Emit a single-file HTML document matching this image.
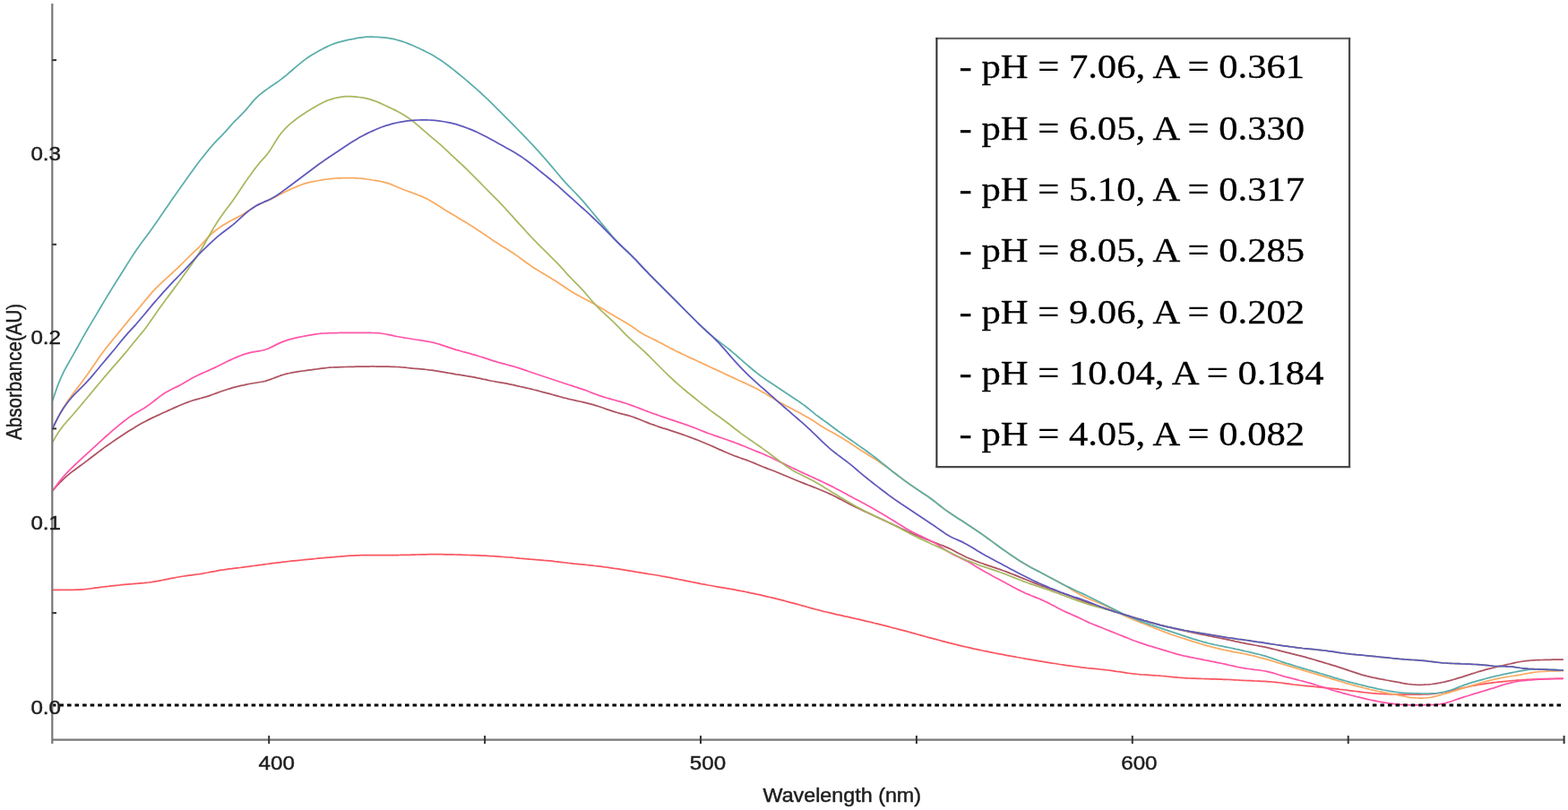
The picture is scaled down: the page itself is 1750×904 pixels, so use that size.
<!DOCTYPE html>
<html><head><meta charset="utf-8"><title>Absorbance spectra</title>
<style>
html,body{margin:0;padding:0;background:#fff;}
body{width:1750px;height:904px;overflow:hidden;}
svg{display:block;}
</style></head>
<body>
<svg width="1750" height="904" viewBox="0 0 1750 904">
<rect width="1750" height="904" fill="#fff"/>
<g fill="none" stroke-width="1.75" stroke-linejoin="round" stroke-linecap="round">
<path d="M58.1,658.4 L61.1,658.4 L64.1,658.4 L67.1,658.4 L70.1,658.4 L73.1,658.4 L76.1,658.4 L79.1,658.3 L82.1,658.3 L85.1,658.2 L88.1,658.1 L91.1,657.9 L94.1,657.7 L97.1,657.4 L100.1,657.0 L103.1,656.7 L106.1,656.2 L109.1,655.8 L112.1,655.4 L115.1,655.0 L118.1,654.6 L121.1,654.3 L124.1,653.9 L127.1,653.6 L130.1,653.3 L133.1,653.0 L136.1,652.7 L139.1,652.4 L142.1,652.1 L145.1,651.8 L148.1,651.6 L151.1,651.3 L154.1,651.1 L157.1,650.8 L160.1,650.6 L163.1,650.3 L166.1,650.0 L169.1,649.6 L172.1,649.1 L175.1,648.7 L178.1,648.1 L181.1,647.5 L184.1,646.9 L187.1,646.3 L190.1,645.7 L193.1,645.1 L196.1,644.5 L199.1,644.0 L202.1,643.5 L205.1,643.0 L208.1,642.6 L211.1,642.2 L214.1,641.8 L217.1,641.4 L220.1,641.0 L223.1,640.6 L226.1,640.1 L229.1,639.5 L232.1,639.0 L235.1,638.4 L238.1,637.8 L241.1,637.3 L244.1,636.7 L247.1,636.2 L250.1,635.8 L253.1,635.3 L256.1,634.9 L259.1,634.6 L262.1,634.2 L265.1,633.8 L268.1,633.5 L271.1,633.1 L274.1,632.7 L277.1,632.3 L280.1,631.9 L283.1,631.5 L286.1,631.1 L289.1,630.7 L292.1,630.3 L295.1,629.9 L298.1,629.5 L301.1,629.1 L304.1,628.7 L307.1,628.3 L310.1,627.9 L313.1,627.6 L316.1,627.2 L319.1,626.9 L322.1,626.5 L325.1,626.2 L328.1,625.9 L331.1,625.6 L334.1,625.3 L337.1,625.0 L340.1,624.7 L343.1,624.4 L346.1,624.1 L349.1,623.8 L352.1,623.5 L355.1,623.2 L358.1,622.9 L361.1,622.7 L364.1,622.4 L367.1,622.1 L370.1,621.8 L373.1,621.6 L376.1,621.3 L379.1,621.1 L382.1,620.8 L385.1,620.6 L388.1,620.4 L391.1,620.2 L394.1,620.1 L397.1,619.9 L400.1,619.8 L403.1,619.7 L406.1,619.7 L409.1,619.6 L412.1,619.6 L415.1,619.5 L418.1,619.5 L421.1,619.5 L424.1,619.5 L427.1,619.5 L430.1,619.5 L433.1,619.5 L436.1,619.5 L439.1,619.5 L442.1,619.5 L445.1,619.5 L448.1,619.4 L451.1,619.4 L454.1,619.3 L457.1,619.3 L460.1,619.2 L463.1,619.1 L466.1,619.0 L469.1,618.9 L472.1,618.8 L475.1,618.8 L478.1,618.7 L481.1,618.7 L484.1,618.7 L487.1,618.7 L490.1,618.7 L493.1,618.7 L496.1,618.8 L499.1,618.8 L502.1,618.9 L505.1,618.9 L508.1,619.0 L511.1,619.1 L514.1,619.2 L517.1,619.3 L520.1,619.4 L523.1,619.5 L526.1,619.6 L529.1,619.7 L532.1,619.8 L535.1,619.9 L538.1,620.1 L541.1,620.2 L544.1,620.4 L547.1,620.6 L550.1,620.7 L553.1,620.9 L556.1,621.1 L559.1,621.3 L562.1,621.5 L565.1,621.8 L568.1,622.0 L571.1,622.2 L574.1,622.5 L577.1,622.8 L580.1,623.1 L583.1,623.3 L586.1,623.6 L589.1,623.9 L592.1,624.2 L595.1,624.4 L598.1,624.7 L601.1,624.9 L604.1,625.1 L607.1,625.4 L610.1,625.6 L613.1,625.9 L616.1,626.2 L619.1,626.6 L622.1,626.9 L625.1,627.3 L628.1,627.7 L631.1,628.0 L634.1,628.4 L637.1,628.7 L640.1,629.1 L643.1,629.4 L646.1,629.7 L649.1,629.9 L652.1,630.2 L655.1,630.5 L658.1,630.8 L661.1,631.1 L664.1,631.5 L667.1,631.8 L670.1,632.2 L673.1,632.6 L676.1,633.0 L679.1,633.4 L682.1,633.8 L685.1,634.3 L688.1,634.7 L691.1,635.2 L694.1,635.7 L697.1,636.2 L700.1,636.7 L703.1,637.2 L706.1,637.7 L709.1,638.2 L712.1,638.6 L715.1,639.1 L718.1,639.6 L721.1,640.1 L724.1,640.6 L727.1,641.0 L730.1,641.5 L733.1,642.0 L736.1,642.5 L739.1,643.1 L742.1,643.6 L745.1,644.2 L748.1,644.7 L751.1,645.3 L754.1,645.9 L757.1,646.5 L760.1,647.1 L763.1,647.7 L766.1,648.3 L769.1,648.9 L772.1,649.5 L775.1,650.1 L778.1,650.7 L781.1,651.3 L784.1,651.9 L787.1,652.4 L790.1,653.0 L793.1,653.5 L796.1,654.0 L799.1,654.6 L802.1,655.1 L805.1,655.6 L808.1,656.1 L811.1,656.6 L814.1,657.2 L817.1,657.7 L820.1,658.2 L823.1,658.8 L826.1,659.4 L829.1,659.9 L832.1,660.5 L835.1,661.1 L838.1,661.8 L841.1,662.4 L844.1,663.1 L847.1,663.7 L850.1,664.4 L853.1,665.1 L856.1,665.8 L859.1,666.5 L862.1,667.2 L865.1,667.9 L868.1,668.7 L871.1,669.4 L874.1,670.2 L877.1,671.0 L880.1,671.8 L883.1,672.6 L886.1,673.4 L889.1,674.2 L892.1,675.0 L895.1,675.9 L898.1,676.7 L901.1,677.5 L904.1,678.4 L907.1,679.2 L910.1,680.0 L913.1,680.7 L916.1,681.5 L919.1,682.3 L922.1,683.0 L925.1,683.7 L928.1,684.4 L931.1,685.1 L934.1,685.8 L937.1,686.4 L940.1,687.1 L943.1,687.8 L946.1,688.4 L949.1,689.1 L952.1,689.8 L955.1,690.5 L958.1,691.2 L961.1,691.9 L964.1,692.6 L967.1,693.3 L970.1,694.0 L973.1,694.7 L976.1,695.5 L979.1,696.2 L982.1,696.9 L985.1,697.7 L988.1,698.4 L991.1,699.2 L994.1,700.0 L997.1,700.8 L1000.1,701.5 L1003.1,702.3 L1006.1,703.1 L1009.1,703.9 L1012.1,704.7 L1015.1,705.5 L1018.1,706.3 L1021.1,707.2 L1024.1,708.0 L1027.1,708.8 L1030.1,709.6 L1033.1,710.5 L1036.1,711.3 L1039.1,712.1 L1042.1,712.9 L1045.1,713.7 L1048.1,714.5 L1051.1,715.3 L1054.1,716.1 L1057.1,716.9 L1060.1,717.7 L1063.1,718.4 L1066.1,719.2 L1069.1,719.9 L1072.1,720.6 L1075.1,721.3 L1078.1,722.0 L1081.1,722.7 L1084.1,723.4 L1087.1,724.1 L1090.1,724.7 L1093.1,725.3 L1096.1,726.0 L1099.1,726.6 L1102.1,727.2 L1105.1,727.8 L1108.1,728.4 L1111.1,729.0 L1114.1,729.6 L1117.1,730.1 L1120.1,730.7 L1123.1,731.3 L1126.1,731.8 L1129.1,732.4 L1132.1,732.9 L1135.1,733.5 L1138.1,734.0 L1141.1,734.5 L1144.1,735.1 L1147.1,735.6 L1150.1,736.1 L1153.1,736.6 L1156.1,737.1 L1159.1,737.6 L1162.1,738.1 L1165.1,738.6 L1168.1,739.1 L1171.1,739.6 L1174.1,740.1 L1177.1,740.5 L1180.1,741.0 L1183.1,741.5 L1186.1,741.9 L1189.1,742.4 L1192.1,742.8 L1195.1,743.2 L1198.1,743.6 L1201.1,744.0 L1204.1,744.4 L1207.1,744.8 L1210.1,745.1 L1213.1,745.5 L1216.1,745.8 L1219.1,746.1 L1222.1,746.4 L1225.1,746.7 L1228.1,747.0 L1231.1,747.3 L1234.1,747.7 L1237.1,748.0 L1240.1,748.4 L1243.1,748.8 L1246.1,749.3 L1249.1,749.7 L1252.1,750.2 L1255.1,750.6 L1258.1,751.1 L1261.1,751.5 L1264.1,751.9 L1267.1,752.2 L1270.1,752.5 L1273.1,752.8 L1276.1,753.0 L1279.1,753.2 L1282.1,753.4 L1285.1,753.6 L1288.1,753.8 L1291.1,754.0 L1294.1,754.2 L1297.1,754.5 L1300.1,754.7 L1303.1,755.0 L1306.1,755.3 L1309.1,755.6 L1312.1,755.9 L1315.1,756.2 L1318.1,756.4 L1321.1,756.6 L1324.1,756.8 L1327.1,757.0 L1330.1,757.1 L1333.1,757.2 L1336.1,757.3 L1339.1,757.4 L1342.1,757.5 L1345.1,757.6 L1348.1,757.7 L1351.1,757.8 L1354.1,757.9 L1357.1,757.9 L1360.1,758.1 L1363.1,758.2 L1366.1,758.3 L1369.1,758.4 L1372.1,758.5 L1375.1,758.7 L1378.1,758.8 L1381.1,759.0 L1384.1,759.2 L1387.1,759.3 L1390.1,759.5 L1393.1,759.6 L1396.1,759.7 L1399.1,759.9 L1402.1,760.0 L1405.1,760.1 L1408.1,760.3 L1411.1,760.4 L1414.1,760.6 L1417.1,760.8 L1420.1,761.0 L1423.1,761.3 L1426.1,761.7 L1429.1,762.0 L1432.1,762.4 L1435.1,762.8 L1438.1,763.2 L1441.1,763.6 L1444.1,764.0 L1447.1,764.3 L1450.1,764.7 L1453.1,765.0 L1456.1,765.3 L1459.1,765.6 L1462.1,765.9 L1465.1,766.2 L1468.1,766.5 L1471.1,766.8 L1474.1,767.1 L1477.1,767.4 L1480.1,767.7 L1483.1,768.0 L1486.1,768.3 L1489.1,768.6 L1492.1,768.9 L1495.1,769.3 L1498.1,769.6 L1501.1,770.0 L1504.1,770.4 L1507.1,770.8 L1510.1,771.2 L1513.1,771.5 L1516.1,771.9 L1519.1,772.3 L1522.1,772.7 L1525.1,773.0 L1528.1,773.3 L1531.1,773.6 L1534.1,773.8 L1537.1,774.1 L1540.1,774.3 L1543.1,774.4 L1546.1,774.6 L1549.1,774.7 L1552.1,774.8 L1555.1,774.9 L1558.1,775.0 L1561.1,775.0 L1564.1,775.1 L1567.1,775.1 L1570.1,775.1 L1573.1,775.2 L1576.1,775.2 L1579.1,775.2 L1582.1,775.1 L1585.1,775.1 L1588.1,775.0 L1591.1,774.9 L1594.1,774.8 L1597.1,774.6 L1600.1,774.3 L1603.1,773.9 L1606.1,773.5 L1609.1,773.0 L1612.1,772.5 L1615.1,771.9 L1618.1,771.2 L1621.1,770.5 L1624.1,769.8 L1627.1,769.1 L1630.1,768.4 L1633.1,767.7 L1636.1,767.0 L1639.1,766.3 L1642.1,765.7 L1645.1,765.1 L1648.1,764.6 L1651.1,764.0 L1654.1,763.6 L1657.1,763.1 L1660.1,762.7 L1663.1,762.3 L1666.1,761.9 L1669.1,761.5 L1672.1,761.2 L1675.1,760.9 L1678.1,760.6 L1681.1,760.3 L1684.1,760.0 L1687.1,759.7 L1690.1,759.5 L1693.1,759.2 L1696.1,759.0 L1699.1,758.8 L1702.1,758.6 L1705.1,758.4 L1708.1,758.3 L1711.1,758.1 L1714.1,758.0 L1717.1,757.9 L1720.1,757.8 L1723.1,757.7 L1726.1,757.6 L1729.1,757.6 L1732.1,757.5 L1735.1,757.4 L1738.1,757.4 L1741.1,757.4 L1744.1,757.3 L1744.2,757.3" stroke="#fa5560"/>
<path d="M58.9,547.3 L61.9,544.0 L64.9,540.7 L67.9,537.5 L70.9,534.6 L73.9,531.8 L76.9,529.3 L79.9,526.9 L82.9,524.7 L85.9,522.5 L88.9,520.3 L91.9,518.1 L94.9,515.9 L97.9,513.6 L100.9,511.3 L103.9,509.0 L106.9,506.7 L109.9,504.4 L112.9,502.2 L115.9,499.9 L118.9,497.8 L121.9,495.7 L124.9,493.6 L127.9,491.5 L130.9,489.5 L133.9,487.5 L136.9,485.5 L139.9,483.5 L142.9,481.6 L145.9,479.7 L148.9,477.9 L151.9,476.1 L154.9,474.3 L157.9,472.6 L160.9,471.0 L163.9,469.4 L166.9,467.9 L169.9,466.4 L172.9,465.0 L175.9,463.6 L178.9,462.2 L181.9,460.8 L184.9,459.5 L187.9,458.1 L190.9,456.8 L193.9,455.4 L196.9,454.1 L199.9,452.8 L202.9,451.5 L205.9,450.2 L208.9,449.1 L211.9,448.0 L214.9,447.0 L217.9,446.1 L220.9,445.3 L223.9,444.5 L226.9,443.6 L229.9,442.8 L232.9,441.8 L235.9,440.8 L238.9,439.7 L241.9,438.6 L244.9,437.5 L247.9,436.5 L250.9,435.5 L253.9,434.5 L256.9,433.6 L259.9,432.7 L262.9,431.9 L265.9,431.2 L268.9,430.4 L271.9,429.8 L274.9,429.1 L277.9,428.5 L280.9,428.0 L283.9,427.5 L286.9,427.0 L289.9,426.5 L292.9,426.0 L295.9,425.3 L298.9,424.4 L301.9,423.4 L304.9,422.3 L307.9,421.1 L310.9,420.0 L313.9,418.9 L316.9,418.0 L319.9,417.1 L322.9,416.5 L325.9,415.8 L328.9,415.3 L331.9,414.8 L334.9,414.4 L337.9,414.0 L340.9,413.6 L343.9,413.2 L346.9,412.8 L349.9,412.4 L352.9,412.0 L355.9,411.6 L358.9,411.2 L361.9,410.8 L364.9,410.5 L367.9,410.2 L370.9,410.0 L373.9,409.9 L376.9,409.8 L379.9,409.7 L382.9,409.6 L385.9,409.5 L388.9,409.4 L391.9,409.4 L394.9,409.3 L397.9,409.2 L400.9,409.1 L403.9,409.0 L406.9,409.0 L409.9,409.0 L412.9,409.0 L415.9,408.9 L418.9,409.0 L421.9,409.0 L424.9,409.0 L427.9,409.1 L430.9,409.1 L433.9,409.2 L436.9,409.3 L439.9,409.4 L442.9,409.5 L445.9,409.7 L448.9,410.0 L451.9,410.2 L454.9,410.5 L457.9,410.8 L460.9,411.1 L463.9,411.3 L466.9,411.6 L469.9,411.9 L472.9,412.2 L475.9,412.5 L478.9,412.9 L481.9,413.2 L484.9,413.6 L487.9,414.1 L490.9,414.6 L493.9,415.1 L496.9,415.6 L499.9,416.2 L502.9,416.7 L505.9,417.2 L508.9,417.8 L511.9,418.2 L514.9,418.7 L517.9,419.2 L520.9,419.7 L523.9,420.1 L526.9,420.6 L529.9,421.2 L532.9,421.8 L535.9,422.4 L538.9,423.1 L541.9,423.7 L544.9,424.4 L547.9,425.0 L550.9,425.5 L553.9,426.1 L556.9,426.6 L559.9,427.1 L562.9,427.6 L565.9,428.2 L568.9,428.8 L571.9,429.4 L574.9,430.1 L577.9,430.8 L580.9,431.5 L583.9,432.2 L586.9,432.8 L589.9,433.5 L592.9,434.2 L595.9,435.0 L598.9,435.7 L601.9,436.5 L604.9,437.3 L607.9,438.1 L610.9,438.9 L613.9,439.7 L616.9,440.5 L619.9,441.3 L622.9,442.2 L625.9,443.0 L628.9,443.8 L631.9,444.5 L634.9,445.3 L637.9,446.0 L640.9,446.7 L643.9,447.4 L646.9,448.0 L649.9,448.7 L652.9,449.4 L655.9,450.1 L658.9,450.9 L661.9,451.7 L664.9,452.6 L667.9,453.5 L670.9,454.5 L673.9,455.5 L676.9,456.6 L679.9,457.6 L682.9,458.6 L685.9,459.6 L688.9,460.5 L691.9,461.3 L694.9,462.1 L697.9,462.8 L700.9,463.6 L703.9,464.5 L706.9,465.5 L709.9,466.6 L712.9,467.8 L715.9,469.0 L718.9,470.2 L721.9,471.4 L724.9,472.6 L727.9,473.7 L730.9,474.7 L733.9,475.8 L736.9,476.8 L739.9,477.8 L742.9,478.7 L745.9,479.7 L748.9,480.7 L751.9,481.7 L754.9,482.7 L757.9,483.7 L760.9,484.7 L763.9,485.7 L766.9,486.8 L769.9,487.9 L772.9,489.0 L775.9,490.1 L778.9,491.3 L781.9,492.5 L784.9,493.7 L787.9,495.0 L790.9,496.2 L793.9,497.5 L796.9,498.9 L799.9,500.2 L802.9,501.6 L805.9,502.9 L808.9,504.2 L811.9,505.5 L814.9,506.8 L817.9,508.0 L820.9,509.2 L823.9,510.2 L826.9,511.3 L829.9,512.3 L832.9,513.4 L835.9,514.5 L838.9,515.7 L841.9,516.9 L844.9,518.2 L847.9,519.5 L850.9,520.8 L853.9,521.9 L856.9,523.1 L859.9,524.2 L862.9,525.3 L865.9,526.5 L868.9,527.7 L871.9,529.0 L874.9,530.2 L877.9,531.5 L880.9,532.8 L883.9,534.0 L886.9,535.3 L889.9,536.5 L892.9,537.7 L895.9,538.9 L898.9,540.1 L901.9,541.3 L904.9,542.4 L907.9,543.6 L910.9,544.8 L913.9,546.0 L916.9,547.2 L919.9,548.5 L922.9,549.8 L925.9,551.1 L928.9,552.5 L931.9,554.0 L934.9,555.6 L937.9,557.1 L940.9,558.7 L943.9,560.3 L946.9,561.9 L949.9,563.4 L952.9,564.9 L955.9,566.4 L958.9,567.8 L961.9,569.2 L964.9,570.6 L967.9,572.0 L970.9,573.4 L973.9,574.8 L976.9,576.2 L979.9,577.6 L982.9,579.0 L985.9,580.4 L988.9,581.8 L991.9,583.2 L994.9,584.6 L997.9,586.0 L1000.9,587.4 L1003.9,588.8 L1006.9,590.2 L1009.9,591.6 L1012.9,593.0 L1015.9,594.3 L1018.9,595.7 L1021.9,597.0 L1024.9,598.2 L1027.9,599.5 L1030.9,600.7 L1033.9,601.9 L1036.9,603.0 L1039.9,604.2 L1042.9,605.4 L1045.9,606.5 L1048.9,607.7 L1051.9,608.8 L1054.9,610.1 L1057.9,611.4 L1060.9,612.8 L1063.9,614.3 L1066.9,615.9 L1069.9,617.5 L1072.9,619.0 L1075.9,620.5 L1078.9,622.0 L1081.9,623.3 L1084.9,624.5 L1087.9,625.7 L1090.9,626.9 L1093.9,628.0 L1096.9,629.0 L1099.9,630.1 L1102.9,631.1 L1105.9,632.1 L1108.9,633.1 L1111.9,634.1 L1114.9,635.2 L1117.9,636.2 L1120.9,637.3 L1123.9,638.4 L1126.9,639.6 L1129.9,640.7 L1132.9,641.9 L1135.9,643.1 L1138.9,644.4 L1141.9,645.6 L1144.9,646.8 L1147.9,648.0 L1150.9,649.2 L1153.9,650.4 L1156.9,651.6 L1159.9,652.8 L1162.9,653.9 L1165.9,655.0 L1168.9,656.1 L1171.9,657.2 L1174.9,658.2 L1177.9,659.2 L1180.9,660.3 L1183.9,661.3 L1186.9,662.4 L1189.9,663.5 L1192.9,664.6 L1195.9,665.8 L1198.9,666.9 L1201.9,668.1 L1204.9,669.3 L1207.9,670.5 L1210.9,671.6 L1213.9,672.7 L1216.9,673.7 L1219.9,674.7 L1222.9,675.7 L1225.9,676.6 L1228.9,677.6 L1231.9,678.5 L1234.9,679.5 L1237.9,680.5 L1240.9,681.5 L1243.9,682.4 L1246.9,683.4 L1249.9,684.4 L1252.9,685.3 L1255.9,686.3 L1258.9,687.2 L1261.9,688.1 L1264.9,689.0 L1267.9,689.9 L1270.9,690.8 L1273.9,691.7 L1276.9,692.6 L1279.9,693.4 L1282.9,694.3 L1285.9,695.1 L1288.9,695.9 L1291.9,696.7 L1294.9,697.5 L1297.9,698.3 L1300.9,699.0 L1303.9,699.8 L1306.9,700.5 L1309.9,701.3 L1312.9,702.0 L1315.9,702.7 L1318.9,703.3 L1321.9,704.0 L1324.9,704.7 L1327.9,705.3 L1330.9,706.0 L1333.9,706.6 L1336.9,707.2 L1339.9,707.8 L1342.9,708.4 L1345.9,709.0 L1348.9,709.6 L1351.9,710.2 L1354.9,710.8 L1357.9,711.4 L1360.9,712.0 L1363.9,712.6 L1366.9,713.2 L1369.9,713.8 L1372.9,714.4 L1375.9,715.1 L1378.9,715.8 L1381.9,716.4 L1384.9,717.1 L1387.9,717.7 L1390.9,718.3 L1393.9,718.9 L1396.9,719.4 L1399.9,720.0 L1402.9,720.5 L1405.9,721.1 L1408.9,721.6 L1411.9,722.2 L1414.9,722.9 L1417.9,723.6 L1420.9,724.3 L1423.9,725.0 L1426.9,725.8 L1429.9,726.6 L1432.9,727.3 L1435.9,728.1 L1438.9,728.8 L1441.9,729.6 L1444.9,730.3 L1447.9,731.1 L1450.9,731.8 L1453.9,732.6 L1456.9,733.4 L1459.9,734.3 L1462.9,735.1 L1465.9,736.0 L1468.9,736.9 L1471.9,737.8 L1474.9,738.7 L1477.9,739.6 L1480.9,740.5 L1483.9,741.4 L1486.9,742.3 L1489.9,743.2 L1492.9,744.2 L1495.9,745.1 L1498.9,746.1 L1501.9,747.1 L1504.9,748.1 L1507.9,749.2 L1510.9,750.2 L1513.9,751.2 L1516.9,752.2 L1519.9,753.1 L1522.9,753.9 L1525.9,754.7 L1528.9,755.4 L1531.9,756.1 L1534.9,756.7 L1537.9,757.3 L1540.9,757.9 L1543.9,758.4 L1546.9,759.0 L1549.9,759.5 L1552.9,760.1 L1555.9,760.6 L1558.9,761.2 L1561.9,761.7 L1564.9,762.3 L1567.9,762.8 L1570.9,763.3 L1573.9,763.7 L1576.9,764.0 L1579.9,764.2 L1582.9,764.3 L1585.9,764.3 L1588.9,764.2 L1591.9,764.0 L1594.9,763.8 L1597.9,763.5 L1600.9,763.1 L1603.9,762.6 L1606.9,762.1 L1609.9,761.5 L1612.9,760.9 L1615.9,760.1 L1618.9,759.4 L1621.9,758.5 L1624.9,757.6 L1627.9,756.7 L1630.9,755.8 L1633.9,754.8 L1636.9,753.8 L1639.9,752.9 L1642.9,751.9 L1645.9,751.0 L1648.9,750.0 L1651.9,749.1 L1654.9,748.3 L1657.9,747.4 L1660.9,746.6 L1663.9,745.9 L1666.9,745.1 L1669.9,744.4 L1672.9,743.7 L1675.9,743.0 L1678.9,742.3 L1681.9,741.6 L1684.9,741.0 L1687.9,740.3 L1690.9,739.6 L1693.9,739.0 L1696.9,738.5 L1699.9,738.0 L1702.9,737.6 L1705.9,737.3 L1708.9,737.0 L1711.9,736.8 L1714.9,736.7 L1717.9,736.6 L1720.9,736.5 L1723.9,736.4 L1726.9,736.3 L1729.9,736.3 L1732.9,736.2 L1735.9,736.1 L1738.9,736.1 L1741.9,736.0 L1744.2,736.0" stroke="#ad5260"/>
<path d="M58.9,547.3 L61.9,543.2 L64.9,539.2 L67.9,535.4 L70.9,531.8 L73.9,528.5 L76.9,525.3 L79.9,522.3 L82.9,519.5 L85.9,516.7 L88.9,513.9 L91.9,511.1 L94.9,508.4 L97.9,505.6 L100.9,502.9 L103.9,500.1 L106.9,497.4 L109.9,494.6 L112.9,491.9 L115.9,489.2 L118.9,486.5 L121.9,483.8 L124.9,481.2 L127.9,478.7 L130.9,476.2 L133.9,473.7 L136.9,471.3 L139.9,468.9 L142.9,466.6 L145.9,464.5 L148.9,462.5 L151.9,460.7 L154.9,458.9 L157.9,457.2 L160.9,455.5 L163.9,453.5 L166.9,451.4 L169.9,449.1 L172.9,446.7 L175.9,444.4 L178.9,442.1 L181.9,440.0 L184.9,438.1 L187.9,436.4 L190.9,434.8 L193.9,433.3 L196.9,431.9 L199.9,430.4 L202.9,428.8 L205.9,427.1 L208.9,425.3 L211.9,423.5 L214.9,421.8 L217.9,420.2 L220.9,418.7 L223.9,417.4 L226.9,416.0 L229.9,414.7 L232.9,413.4 L235.9,412.0 L238.9,410.6 L241.9,409.2 L244.9,407.7 L247.9,406.3 L250.9,404.8 L253.9,403.3 L256.9,401.9 L259.9,400.5 L262.9,399.1 L265.9,397.9 L268.9,396.7 L271.9,395.6 L274.9,394.6 L277.9,393.8 L280.9,393.1 L283.9,392.6 L286.9,392.1 L289.9,391.6 L292.9,391.0 L295.9,390.3 L298.9,389.2 L301.9,387.9 L304.9,386.4 L307.9,384.9 L310.9,383.4 L313.9,382.1 L316.9,380.9 L319.9,379.9 L322.9,378.9 L325.9,378.1 L328.9,377.4 L331.9,376.7 L334.9,376.1 L337.9,375.5 L340.9,374.9 L343.9,374.4 L346.9,373.9 L349.9,373.4 L352.9,372.9 L355.9,372.5 L358.9,372.2 L361.9,372.0 L364.9,371.8 L367.9,371.7 L370.9,371.6 L373.9,371.5 L376.9,371.5 L379.9,371.4 L382.9,371.4 L385.9,371.4 L388.9,371.4 L391.9,371.4 L394.9,371.4 L397.9,371.4 L400.9,371.4 L403.9,371.4 L406.9,371.4 L409.9,371.4 L412.9,371.4 L415.9,371.5 L418.9,371.6 L421.9,371.7 L424.9,372.0 L427.9,372.5 L430.9,373.0 L433.9,373.6 L436.9,374.2 L439.9,374.9 L442.9,375.5 L445.9,376.0 L448.9,376.5 L451.9,377.1 L454.9,377.5 L457.9,378.0 L460.9,378.5 L463.9,379.0 L466.9,379.4 L469.9,379.9 L472.9,380.4 L475.9,380.9 L478.9,381.4 L481.9,382.0 L484.9,382.7 L487.9,383.5 L490.9,384.4 L493.9,385.3 L496.9,386.3 L499.9,387.3 L502.9,388.3 L505.9,389.3 L508.9,390.3 L511.9,391.2 L514.9,392.0 L517.9,392.8 L520.9,393.6 L523.9,394.4 L526.9,395.3 L529.9,396.1 L532.9,397.0 L535.9,398.0 L538.9,398.9 L541.9,399.9 L544.9,400.9 L547.9,401.9 L550.9,402.8 L553.9,403.7 L556.9,404.6 L559.9,405.4 L562.9,406.2 L565.9,407.0 L568.9,407.8 L571.9,408.6 L574.9,409.5 L577.9,410.4 L580.9,411.4 L583.9,412.4 L586.9,413.4 L589.9,414.5 L592.9,415.5 L595.9,416.5 L598.9,417.5 L601.9,418.5 L604.9,419.5 L607.9,420.5 L610.9,421.5 L613.9,422.5 L616.9,423.5 L619.9,424.5 L622.9,425.5 L625.9,426.5 L628.9,427.5 L631.9,428.5 L634.9,429.5 L637.9,430.4 L640.9,431.4 L643.9,432.3 L646.9,433.3 L649.9,434.3 L652.9,435.3 L655.9,436.5 L658.9,437.7 L661.9,438.9 L664.9,440.0 L667.9,441.1 L670.9,442.1 L673.9,443.1 L676.9,444.0 L679.9,444.8 L682.9,445.7 L685.9,446.5 L688.9,447.4 L691.9,448.2 L694.9,449.1 L697.9,450.0 L700.9,451.0 L703.9,452.1 L706.9,453.1 L709.9,454.3 L712.9,455.4 L715.9,456.6 L718.9,457.8 L721.9,458.9 L724.9,460.0 L727.9,461.1 L730.9,462.2 L733.9,463.2 L736.9,464.3 L739.9,465.3 L742.9,466.3 L745.9,467.4 L748.9,468.4 L751.9,469.4 L754.9,470.4 L757.9,471.3 L760.9,472.3 L763.9,473.4 L766.9,474.4 L769.9,475.5 L772.9,476.6 L775.9,477.8 L778.9,479.0 L781.9,480.2 L784.9,481.4 L787.9,482.6 L790.9,483.7 L793.9,484.8 L796.9,485.9 L799.9,486.9 L802.9,487.9 L805.9,489.0 L808.9,490.0 L811.9,491.0 L814.9,492.1 L817.9,493.1 L820.9,494.3 L823.9,495.4 L826.9,496.6 L829.9,497.8 L832.9,499.0 L835.9,500.3 L838.9,501.5 L841.9,502.7 L844.9,503.9 L847.9,505.1 L850.9,506.3 L853.9,507.6 L856.9,509.0 L859.9,510.3 L862.9,511.7 L865.9,513.2 L868.9,514.6 L871.9,516.1 L874.9,517.6 L877.9,519.1 L880.9,520.5 L883.9,522.0 L886.9,523.4 L889.9,524.8 L892.9,526.2 L895.9,527.6 L898.9,529.0 L901.9,530.4 L904.9,531.8 L907.9,533.1 L910.9,534.5 L913.9,535.9 L916.9,537.3 L919.9,538.7 L922.9,540.1 L925.9,541.6 L928.9,543.1 L931.9,544.7 L934.9,546.2 L937.9,547.8 L940.9,549.4 L943.9,551.0 L946.9,552.7 L949.9,554.3 L952.9,555.9 L955.9,557.5 L958.9,559.1 L961.9,560.7 L964.9,562.3 L967.9,563.9 L970.9,565.6 L973.9,567.3 L976.9,569.0 L979.9,570.7 L982.9,572.5 L985.9,574.3 L988.9,576.1 L991.9,577.9 L994.9,579.7 L997.9,581.6 L1000.9,583.4 L1003.9,585.3 L1006.9,587.1 L1009.9,588.9 L1012.9,590.7 L1015.9,592.4 L1018.9,594.0 L1021.9,595.5 L1024.9,597.0 L1027.9,598.4 L1030.9,599.9 L1033.9,601.3 L1036.9,602.7 L1039.9,604.2 L1042.9,605.8 L1045.9,607.6 L1048.9,609.5 L1051.9,611.5 L1054.9,613.6 L1057.9,615.5 L1060.9,617.3 L1063.9,618.9 L1066.9,620.4 L1069.9,621.7 L1072.9,623.1 L1075.9,624.6 L1078.9,626.1 L1081.9,627.8 L1084.9,629.6 L1087.9,631.4 L1090.9,633.2 L1093.9,635.0 L1096.9,636.8 L1099.9,638.5 L1102.9,640.1 L1105.9,641.8 L1108.9,643.4 L1111.9,645.0 L1114.9,646.6 L1117.9,648.2 L1120.9,649.8 L1123.9,651.4 L1126.9,653.1 L1129.9,654.7 L1132.9,656.3 L1135.9,657.9 L1138.9,659.4 L1141.9,660.8 L1144.9,662.2 L1147.9,663.4 L1150.9,664.7 L1153.9,665.9 L1156.9,667.1 L1159.9,668.3 L1162.9,669.6 L1165.9,671.0 L1168.9,672.4 L1171.9,673.9 L1174.9,675.5 L1177.9,677.1 L1180.9,678.7 L1183.9,680.2 L1186.9,681.7 L1189.9,683.1 L1192.9,684.4 L1195.9,685.7 L1198.9,687.1 L1201.9,688.4 L1204.9,689.8 L1207.9,691.3 L1210.9,692.7 L1213.9,694.1 L1216.9,695.5 L1219.9,696.7 L1222.9,697.9 L1225.9,699.1 L1228.9,700.3 L1231.9,701.5 L1234.9,702.7 L1237.9,703.9 L1240.9,705.1 L1243.9,706.3 L1246.9,707.5 L1249.9,708.7 L1252.9,709.9 L1255.9,711.1 L1258.9,712.3 L1261.9,713.5 L1264.9,714.7 L1267.9,715.8 L1270.9,716.9 L1273.9,717.9 L1276.9,718.9 L1279.9,719.8 L1282.9,720.8 L1285.9,721.7 L1288.9,722.6 L1291.9,723.5 L1294.9,724.4 L1297.9,725.3 L1300.9,726.2 L1303.9,727.1 L1306.9,728.0 L1309.9,728.9 L1312.9,729.8 L1315.9,730.6 L1318.9,731.4 L1321.9,732.1 L1324.9,732.7 L1327.9,733.3 L1330.9,733.9 L1333.9,734.5 L1336.9,735.1 L1339.9,735.7 L1342.9,736.3 L1345.9,736.9 L1348.9,737.4 L1351.9,738.1 L1354.9,738.7 L1357.9,739.3 L1360.9,739.9 L1363.9,740.5 L1366.9,741.2 L1369.9,741.9 L1372.9,742.5 L1375.9,743.2 L1378.9,743.9 L1381.9,744.5 L1384.9,745.1 L1387.9,745.6 L1390.9,746.1 L1393.9,746.5 L1396.9,746.9 L1399.9,747.3 L1402.9,747.6 L1405.9,748.0 L1408.9,748.5 L1411.9,749.0 L1414.9,749.6 L1417.9,750.4 L1420.9,751.2 L1423.9,752.0 L1426.9,753.0 L1429.9,753.9 L1432.9,754.8 L1435.9,755.6 L1438.9,756.4 L1441.9,757.2 L1444.9,757.9 L1447.9,758.7 L1450.9,759.5 L1453.9,760.2 L1456.9,761.0 L1459.9,761.9 L1462.9,762.7 L1465.9,763.6 L1468.9,764.5 L1471.9,765.5 L1474.9,766.4 L1477.9,767.3 L1480.9,768.2 L1483.9,769.1 L1486.9,770.1 L1489.9,771.0 L1492.9,771.8 L1495.9,772.7 L1498.9,773.6 L1501.9,774.4 L1504.9,775.2 L1507.9,776.0 L1510.9,776.7 L1513.9,777.5 L1516.9,778.2 L1519.9,778.9 L1522.9,779.6 L1525.9,780.3 L1528.9,781.0 L1531.9,781.6 L1534.9,782.2 L1537.9,782.8 L1540.9,783.3 L1543.9,783.9 L1546.9,784.3 L1549.9,784.8 L1552.9,785.2 L1555.9,785.6 L1558.9,785.9 L1561.9,786.2 L1564.9,786.4 L1567.9,786.6 L1570.9,786.7 L1573.9,786.8 L1576.9,786.8 L1579.9,786.8 L1582.9,786.8 L1585.9,786.8 L1588.9,786.8 L1591.9,786.7 L1594.9,786.7 L1597.9,786.6 L1600.9,786.5 L1603.9,786.3 L1606.9,785.9 L1609.9,785.4 L1612.9,784.8 L1615.9,783.9 L1618.9,783.0 L1621.9,782.0 L1624.9,780.9 L1627.9,779.9 L1630.9,778.9 L1633.9,777.9 L1636.9,777.0 L1639.9,776.0 L1642.9,775.1 L1645.9,774.2 L1648.9,773.3 L1651.9,772.4 L1654.9,771.5 L1657.9,770.6 L1660.9,769.7 L1663.9,768.7 L1666.9,767.8 L1669.9,766.8 L1672.9,765.8 L1675.9,764.9 L1678.9,764.0 L1681.9,763.1 L1684.9,762.3 L1687.9,761.6 L1690.9,761.0 L1693.9,760.5 L1696.9,760.0 L1699.9,759.6 L1702.9,759.3 L1705.9,759.0 L1708.9,758.8 L1711.9,758.6 L1714.9,758.4 L1717.9,758.2 L1720.9,758.1 L1723.9,757.9 L1726.9,757.8 L1729.9,757.7 L1732.9,757.6 L1735.9,757.5 L1738.9,757.4 L1741.9,757.4 L1744.2,757.3" stroke="#ff55aa"/>
<path d="M58.9,477.6 L61.9,471.4 L64.9,465.4 L67.9,459.8 L70.9,454.8 L73.9,450.1 L76.9,445.7 L79.9,441.5 L82.9,437.5 L85.9,433.6 L88.9,429.7 L91.9,425.7 L94.9,421.6 L97.9,417.4 L100.9,413.1 L103.9,408.8 L106.9,404.4 L109.9,400.0 L112.9,395.8 L115.9,391.7 L118.9,387.8 L121.9,384.1 L124.9,380.4 L127.9,376.7 L130.9,373.0 L133.9,369.4 L136.9,365.7 L139.9,362.1 L142.9,358.4 L145.9,354.8 L148.9,351.2 L151.9,347.6 L154.9,344.0 L157.9,340.4 L160.9,336.7 L163.9,333.1 L166.9,329.6 L169.9,326.1 L172.9,322.9 L175.9,319.8 L178.9,316.9 L181.9,314.2 L184.9,311.4 L187.9,308.7 L190.9,306.0 L193.9,303.2 L196.9,300.4 L199.9,297.5 L202.9,294.5 L205.9,291.5 L208.9,288.5 L211.9,285.6 L214.9,282.7 L217.9,279.9 L220.9,277.1 L223.9,274.0 L226.9,270.7 L229.9,267.3 L232.9,264.1 L235.9,261.1 L238.9,258.5 L241.9,256.2 L244.9,254.1 L247.9,252.1 L250.9,250.2 L253.9,248.4 L256.9,246.7 L259.9,245.1 L262.9,243.6 L265.9,242.1 L268.9,240.5 L271.9,238.7 L274.9,236.8 L277.9,234.7 L280.9,232.7 L283.9,230.8 L286.9,229.1 L289.9,227.6 L292.9,226.2 L295.9,224.9 L298.9,223.7 L301.9,222.4 L304.9,220.9 L307.9,219.4 L310.9,217.8 L313.9,216.2 L316.9,214.7 L319.9,213.3 L322.9,211.9 L325.9,210.5 L328.9,209.2 L331.9,207.9 L334.9,206.7 L337.9,205.6 L340.9,204.7 L343.9,203.9 L346.9,203.2 L349.9,202.6 L352.9,202.0 L355.9,201.5 L358.9,200.9 L361.9,200.4 L364.9,200.0 L367.9,199.6 L370.9,199.3 L373.9,199.0 L376.9,198.9 L379.9,198.8 L382.9,198.7 L385.9,198.7 L388.9,198.7 L391.9,198.7 L394.9,198.7 L397.9,198.8 L400.9,199.0 L403.9,199.2 L406.9,199.6 L409.9,200.0 L412.9,200.5 L415.9,201.0 L418.9,201.4 L421.9,201.9 L424.9,202.5 L427.9,203.1 L430.9,203.9 L433.9,204.8 L436.9,205.9 L439.9,207.2 L442.9,208.5 L445.9,209.8 L448.9,211.0 L451.9,212.2 L454.9,213.3 L457.9,214.4 L460.9,215.5 L463.9,216.6 L466.9,217.7 L469.9,218.9 L472.9,220.2 L475.9,221.6 L478.9,223.2 L481.9,224.9 L484.9,226.7 L487.9,228.7 L490.9,230.6 L493.9,232.5 L496.9,234.4 L499.9,236.2 L502.9,238.0 L505.9,239.8 L508.9,241.6 L511.9,243.4 L514.9,245.2 L517.9,247.0 L520.9,248.8 L523.9,250.7 L526.9,252.6 L529.9,254.5 L532.9,256.4 L535.9,258.4 L538.9,260.4 L541.9,262.5 L544.9,264.6 L547.9,266.6 L550.9,268.7 L553.9,270.6 L556.9,272.6 L559.9,274.4 L562.9,276.2 L565.9,278.0 L568.9,279.9 L571.9,281.9 L574.9,283.9 L577.9,286.1 L580.9,288.3 L583.9,290.5 L586.9,292.7 L589.9,294.8 L592.9,296.9 L595.9,298.9 L598.9,300.8 L601.9,302.6 L604.9,304.4 L607.9,306.2 L610.9,308.0 L613.9,309.8 L616.9,311.7 L619.9,313.6 L622.9,315.6 L625.9,317.6 L628.9,319.6 L631.9,321.6 L634.9,323.6 L637.9,325.4 L640.9,327.2 L643.9,328.9 L646.9,330.6 L649.9,332.2 L652.9,333.8 L655.9,335.4 L658.9,337.0 L661.9,338.6 L664.9,340.3 L667.9,342.1 L670.9,343.8 L673.9,345.6 L676.9,347.4 L679.9,349.3 L682.9,351.0 L685.9,352.8 L688.9,354.5 L691.9,356.3 L694.9,358.0 L697.9,359.7 L700.9,361.5 L703.9,363.4 L706.9,365.5 L709.9,367.6 L712.9,369.7 L715.9,371.7 L718.9,373.4 L721.9,375.0 L724.9,376.5 L727.9,378.0 L730.9,379.4 L733.9,380.9 L736.9,382.5 L739.9,384.1 L742.9,385.7 L745.9,387.3 L748.9,388.9 L751.9,390.4 L754.9,392.0 L757.9,393.4 L760.9,394.9 L763.9,396.3 L766.9,397.7 L769.9,399.1 L772.9,400.4 L775.9,401.8 L778.9,403.2 L781.9,404.6 L784.9,406.0 L787.9,407.4 L790.9,408.8 L793.9,410.2 L796.9,411.6 L799.9,413.0 L802.9,414.4 L805.9,415.8 L808.9,417.2 L811.9,418.6 L814.9,420.0 L817.9,421.4 L820.9,422.8 L823.9,424.2 L826.9,425.5 L829.9,426.9 L832.9,428.3 L835.9,429.7 L838.9,431.1 L841.9,432.5 L844.9,434.1 L847.9,435.7 L850.9,437.4 L853.9,439.1 L856.9,440.9 L859.9,442.8 L862.9,444.6 L865.9,446.4 L868.9,448.2 L871.9,449.9 L874.9,451.6 L877.9,453.2 L880.9,454.8 L883.9,456.3 L886.9,457.9 L889.9,459.5 L892.9,461.1 L895.9,462.7 L898.9,464.4 L901.9,466.1 L904.9,467.9 L907.9,469.8 L910.9,471.8 L913.9,473.7 L916.9,475.7 L919.9,477.5 L922.9,479.2 L925.9,480.9 L928.9,482.6 L931.9,484.3 L934.9,486.0 L937.9,487.8 L940.9,489.6 L943.9,491.5 L946.9,493.3 L949.9,495.3 L952.9,497.3 L955.9,499.3 L958.9,501.3 L961.9,503.2 L964.9,505.1 L967.9,507.0 L970.9,508.9 L973.9,510.7 L976.9,512.6 L979.9,514.6 L982.9,516.7 L985.9,518.8 L988.9,520.9 L991.9,523.1 L994.9,525.3 L997.9,527.6 L1000.9,529.8 L1003.9,532.0 L1006.9,534.3 L1009.9,536.5 L1012.9,538.7 L1015.9,540.8 L1018.9,542.9 L1021.9,545.0 L1024.9,547.0 L1027.9,548.9 L1030.9,550.9 L1033.9,552.9 L1036.9,555.0 L1039.9,557.2 L1042.9,559.5 L1045.9,561.9 L1048.9,564.3 L1051.9,566.6 L1054.9,568.9 L1057.9,571.0 L1060.9,573.0 L1063.9,575.0 L1066.9,577.0 L1069.9,578.9 L1072.9,580.8 L1075.9,582.8 L1078.9,584.8 L1081.9,586.7 L1084.9,588.7 L1087.9,590.7 L1090.9,592.7 L1093.9,594.8 L1096.9,596.9 L1099.9,599.0 L1102.9,601.2 L1105.9,603.4 L1108.9,605.6 L1111.9,607.8 L1114.9,610.0 L1117.9,612.2 L1120.9,614.3 L1123.9,616.4 L1126.9,618.5 L1129.9,620.5 L1132.9,622.5 L1135.9,624.5 L1138.9,626.4 L1141.9,628.3 L1144.9,630.0 L1147.9,631.7 L1150.9,633.4 L1153.9,635.0 L1156.9,636.6 L1159.9,638.1 L1162.9,639.7 L1165.9,641.3 L1168.9,642.8 L1171.9,644.4 L1174.9,646.0 L1177.9,647.6 L1180.9,649.2 L1183.9,650.8 L1186.9,652.5 L1189.9,654.2 L1192.9,656.0 L1195.9,657.9 L1198.9,659.7 L1201.9,661.5 L1204.9,663.3 L1207.9,664.9 L1210.9,666.4 L1213.9,667.8 L1216.9,669.1 L1219.9,670.3 L1222.9,671.5 L1225.9,672.7 L1228.9,673.9 L1231.9,675.2 L1234.9,676.6 L1237.9,678.1 L1240.9,679.7 L1243.9,681.3 L1246.9,682.9 L1249.9,684.5 L1252.9,686.1 L1255.9,687.5 L1258.9,688.9 L1261.9,690.2 L1264.9,691.5 L1267.9,692.7 L1270.9,693.9 L1273.9,695.1 L1276.9,696.2 L1279.9,697.4 L1282.9,698.6 L1285.9,699.8 L1288.9,701.1 L1291.9,702.3 L1294.9,703.5 L1297.9,704.6 L1300.9,705.8 L1303.9,706.9 L1306.9,708.0 L1309.9,709.0 L1312.9,710.0 L1315.9,711.0 L1318.9,712.0 L1321.9,712.9 L1324.9,713.9 L1327.9,714.8 L1330.9,715.8 L1333.9,716.7 L1336.9,717.6 L1339.9,718.5 L1342.9,719.4 L1345.9,720.3 L1348.9,721.1 L1351.9,721.9 L1354.9,722.7 L1357.9,723.4 L1360.9,724.1 L1363.9,724.8 L1366.9,725.5 L1369.9,726.1 L1372.9,726.7 L1375.9,727.3 L1378.9,727.8 L1381.9,728.4 L1384.9,728.9 L1387.9,729.5 L1390.9,730.1 L1393.9,730.8 L1396.9,731.5 L1399.9,732.2 L1402.9,733.0 L1405.9,733.8 L1408.9,734.6 L1411.9,735.4 L1414.9,736.2 L1417.9,737.1 L1420.9,738.0 L1423.9,738.9 L1426.9,739.8 L1429.9,740.7 L1432.9,741.6 L1435.9,742.5 L1438.9,743.4 L1441.9,744.3 L1444.9,745.2 L1447.9,746.1 L1450.9,747.0 L1453.9,747.9 L1456.9,748.8 L1459.9,749.7 L1462.9,750.6 L1465.9,751.5 L1468.9,752.4 L1471.9,753.3 L1474.9,754.2 L1477.9,755.1 L1480.9,756.0 L1483.9,756.9 L1486.9,757.8 L1489.9,758.7 L1492.9,759.6 L1495.9,760.5 L1498.9,761.4 L1501.9,762.3 L1504.9,763.1 L1507.9,764.0 L1510.9,764.8 L1513.9,765.6 L1516.9,766.5 L1519.9,767.2 L1522.9,768.0 L1525.9,768.7 L1528.9,769.5 L1531.9,770.2 L1534.9,770.8 L1537.9,771.5 L1540.9,772.1 L1543.9,772.7 L1546.9,773.3 L1549.9,773.9 L1552.9,774.4 L1555.9,775.0 L1558.9,775.5 L1561.9,776.1 L1564.9,776.6 L1567.9,777.2 L1570.9,777.8 L1573.9,778.3 L1576.9,778.7 L1579.9,778.9 L1582.9,779.0 L1585.9,779.0 L1588.9,779.0 L1591.9,778.8 L1594.9,778.5 L1597.9,778.1 L1600.9,777.4 L1603.9,776.7 L1606.9,775.9 L1609.9,775.0 L1612.9,774.2 L1615.9,773.3 L1618.9,772.4 L1621.9,771.5 L1624.9,770.6 L1627.9,769.7 L1630.9,768.7 L1633.9,767.8 L1636.9,766.9 L1639.9,766.0 L1642.9,765.1 L1645.9,764.2 L1648.9,763.3 L1651.9,762.4 L1654.9,761.5 L1657.9,760.7 L1660.9,759.9 L1663.9,759.1 L1666.9,758.4 L1669.9,757.7 L1672.9,757.1 L1675.9,756.5 L1678.9,755.9 L1681.9,755.4 L1684.9,755.0 L1687.9,754.5 L1690.9,754.1 L1693.9,753.6 L1696.9,753.1 L1699.9,752.5 L1702.9,751.9 L1705.9,751.4 L1708.9,750.8 L1711.9,750.3 L1714.9,750.0 L1717.9,749.7 L1720.9,749.5 L1723.9,749.3 L1726.9,749.1 L1729.9,749.0 L1732.9,748.9 L1735.9,748.8 L1738.9,748.8 L1741.9,748.7 L1744.2,748.7" stroke="#f9aa60"/>
<path d="M58.9,446.6 L61.9,437.5 L64.9,429.1 L67.9,421.8 L70.9,415.4 L73.9,409.7 L76.9,404.4 L79.9,399.1 L82.9,393.9 L85.9,388.5 L88.9,383.1 L91.9,377.7 L94.9,372.4 L97.9,367.2 L100.9,362.1 L103.9,357.1 L106.9,352.1 L109.9,347.0 L112.9,342.0 L115.9,336.9 L118.9,331.9 L121.9,327.0 L124.9,322.1 L127.9,317.3 L130.9,312.5 L133.9,307.8 L136.9,303.0 L139.9,298.2 L142.9,293.4 L145.9,288.6 L148.9,284.0 L151.9,279.5 L154.9,275.2 L157.9,271.1 L160.9,267.0 L163.9,263.0 L166.9,258.9 L169.9,254.7 L172.9,250.5 L175.9,246.2 L178.9,241.8 L181.9,237.4 L184.9,233.1 L187.9,228.7 L190.9,224.3 L193.9,220.0 L196.9,215.7 L199.9,211.4 L202.9,207.2 L205.9,203.0 L208.9,198.8 L211.9,194.6 L214.9,190.4 L217.9,186.3 L220.9,182.2 L223.9,178.3 L226.9,174.6 L229.9,170.8 L232.9,167.1 L235.9,163.5 L238.9,160.1 L241.9,156.9 L244.9,153.8 L247.9,150.8 L250.9,147.6 L253.9,144.3 L256.9,140.9 L259.9,137.5 L262.9,134.3 L265.9,131.4 L268.9,128.5 L271.9,125.4 L274.9,122.1 L277.9,118.5 L280.9,114.9 L283.9,111.4 L286.9,108.3 L289.9,105.6 L292.9,103.2 L295.9,101.0 L298.9,98.9 L301.9,96.8 L304.9,94.8 L307.9,92.7 L310.9,90.6 L313.9,88.4 L316.9,86.0 L319.9,83.6 L322.9,81.0 L325.9,78.5 L328.9,75.9 L331.9,73.3 L334.9,70.8 L337.9,68.4 L340.9,66.1 L343.9,64.0 L346.9,62.0 L349.9,60.2 L352.9,58.5 L355.9,56.8 L358.9,55.2 L361.9,53.6 L364.9,52.1 L367.9,50.8 L370.9,49.5 L373.9,48.4 L376.9,47.4 L379.9,46.6 L382.9,45.8 L385.9,45.1 L388.9,44.4 L391.9,43.8 L394.9,43.3 L397.9,42.7 L400.9,42.2 L403.9,41.8 L406.9,41.4 L409.9,41.2 L412.9,41.1 L415.9,41.1 L418.9,41.3 L421.9,41.4 L424.9,41.6 L427.9,41.9 L430.9,42.2 L433.9,42.6 L436.9,43.1 L439.9,43.7 L442.9,44.5 L445.9,45.3 L448.9,46.2 L451.9,47.3 L454.9,48.4 L457.9,49.6 L460.9,50.8 L463.9,52.2 L466.9,53.5 L469.9,55.0 L472.9,56.4 L475.9,58.0 L478.9,59.5 L481.9,61.1 L484.9,62.8 L487.9,64.7 L490.9,66.6 L493.9,68.6 L496.9,70.7 L499.9,73.0 L502.9,75.3 L505.9,77.6 L508.9,80.0 L511.9,82.5 L514.9,84.9 L517.9,87.4 L520.9,89.9 L523.9,92.5 L526.9,95.1 L529.9,97.7 L532.9,100.3 L535.9,103.0 L538.9,105.8 L541.9,108.6 L544.9,111.4 L547.9,114.4 L550.9,117.3 L553.9,120.3 L556.9,123.4 L559.9,126.4 L562.9,129.4 L565.9,132.4 L568.9,135.4 L571.9,138.4 L574.9,141.4 L577.9,144.5 L580.9,147.6 L583.9,150.7 L586.9,153.8 L589.9,157.0 L592.9,160.2 L595.9,163.4 L598.9,166.6 L601.9,169.9 L604.9,173.3 L607.9,176.6 L610.9,180.1 L613.9,183.6 L616.9,187.1 L619.9,190.7 L622.9,194.3 L625.9,197.9 L628.9,201.3 L631.9,204.6 L634.9,207.8 L637.9,211.0 L640.9,214.0 L643.9,217.1 L646.9,220.3 L649.9,223.6 L652.9,227.1 L655.9,230.6 L658.9,234.2 L661.9,237.8 L664.9,241.5 L667.9,245.1 L670.9,248.7 L673.9,252.3 L676.9,255.9 L679.9,259.5 L682.9,263.1 L685.9,266.5 L688.9,269.8 L691.9,272.9 L694.9,275.8 L697.9,278.7 L700.9,281.5 L703.9,284.3 L706.9,287.3 L709.9,290.4 L712.9,293.6 L715.9,296.8 L718.9,300.1 L721.9,303.2 L724.9,306.4 L727.9,309.4 L730.9,312.4 L733.9,315.4 L736.9,318.4 L739.9,321.4 L742.9,324.4 L745.9,327.4 L748.9,330.4 L751.9,333.4 L754.9,336.4 L757.9,339.4 L760.9,342.5 L763.9,345.5 L766.9,348.5 L769.9,351.5 L772.9,354.5 L775.9,357.5 L778.9,360.5 L781.9,363.4 L784.9,366.3 L787.9,369.1 L790.9,371.8 L793.9,374.4 L796.9,376.9 L799.9,379.3 L802.9,381.6 L805.9,383.9 L808.9,386.1 L811.9,388.4 L814.9,390.8 L817.9,393.3 L820.9,395.8 L823.9,398.5 L826.9,401.1 L829.9,403.8 L832.9,406.4 L835.9,409.0 L838.9,411.5 L841.9,414.0 L844.9,416.4 L847.9,418.7 L850.9,420.9 L853.9,423.0 L856.9,425.1 L859.9,427.1 L862.9,429.1 L865.9,431.0 L868.9,433.0 L871.9,435.0 L874.9,437.0 L877.9,439.0 L880.9,441.0 L883.9,443.0 L886.9,444.9 L889.9,446.9 L892.9,449.0 L895.9,451.1 L898.9,453.3 L901.9,455.7 L904.9,458.2 L907.9,460.7 L910.9,463.1 L913.9,465.3 L916.9,467.5 L919.9,469.6 L922.9,471.8 L925.9,474.0 L928.9,476.2 L931.9,478.5 L934.9,480.7 L937.9,482.9 L940.9,485.0 L943.9,487.1 L946.9,489.2 L949.9,491.3 L952.9,493.4 L955.9,495.5 L958.9,497.6 L961.9,499.7 L964.9,501.8 L967.9,504.0 L970.9,506.2 L973.9,508.4 L976.9,510.7 L979.9,513.0 L982.9,515.4 L985.9,517.9 L988.9,520.3 L991.9,522.7 L994.9,525.2 L997.9,527.5 L1000.9,529.8 L1003.9,532.1 L1006.9,534.4 L1009.9,536.6 L1012.9,538.7 L1015.9,540.9 L1018.9,542.9 L1021.9,545.0 L1024.9,547.0 L1027.9,548.9 L1030.9,550.9 L1033.9,552.9 L1036.9,555.0 L1039.9,557.2 L1042.9,559.5 L1045.9,561.9 L1048.9,564.3 L1051.9,566.6 L1054.9,568.9 L1057.9,571.0 L1060.9,573.0 L1063.9,575.0 L1066.9,577.0 L1069.9,578.9 L1072.9,580.8 L1075.9,582.8 L1078.9,584.8 L1081.9,586.7 L1084.9,588.7 L1087.9,590.7 L1090.9,592.7 L1093.9,594.8 L1096.9,596.9 L1099.9,599.0 L1102.9,601.2 L1105.9,603.4 L1108.9,605.6 L1111.9,607.8 L1114.9,610.0 L1117.9,612.2 L1120.9,614.3 L1123.9,616.4 L1126.9,618.5 L1129.9,620.5 L1132.9,622.5 L1135.9,624.5 L1138.9,626.4 L1141.9,628.3 L1144.9,630.0 L1147.9,631.7 L1150.9,633.4 L1153.9,635.0 L1156.9,636.6 L1159.9,638.1 L1162.9,639.7 L1165.9,641.3 L1168.9,642.9 L1171.9,644.5 L1174.9,646.1 L1177.9,647.7 L1180.9,649.3 L1183.9,650.9 L1186.9,652.5 L1189.9,654.0 L1192.9,655.4 L1195.9,656.9 L1198.9,658.3 L1201.9,659.7 L1204.9,661.0 L1207.9,662.4 L1210.9,663.8 L1213.9,665.3 L1216.9,666.7 L1219.9,668.2 L1222.9,669.7 L1225.9,671.2 L1228.9,672.7 L1231.9,674.2 L1234.9,675.7 L1237.9,677.3 L1240.9,678.8 L1243.9,680.3 L1246.9,681.8 L1249.9,683.3 L1252.9,684.7 L1255.9,686.1 L1258.9,687.5 L1261.9,688.8 L1264.9,690.0 L1267.9,691.2 L1270.9,692.4 L1273.9,693.6 L1276.9,694.7 L1279.9,695.8 L1282.9,696.9 L1285.9,697.9 L1288.9,698.9 L1291.9,699.9 L1294.9,700.9 L1297.9,701.9 L1300.9,702.9 L1303.9,703.9 L1306.9,704.9 L1309.9,705.9 L1312.9,706.9 L1315.9,707.9 L1318.9,708.9 L1321.9,709.9 L1324.9,710.9 L1327.9,711.8 L1330.9,712.8 L1333.9,713.7 L1336.9,714.6 L1339.9,715.5 L1342.9,716.4 L1345.9,717.2 L1348.9,718.0 L1351.9,718.7 L1354.9,719.4 L1357.9,720.0 L1360.9,720.6 L1363.9,721.2 L1366.9,721.8 L1369.9,722.4 L1372.9,723.0 L1375.9,723.6 L1378.9,724.3 L1381.9,724.9 L1384.9,725.6 L1387.9,726.3 L1390.9,727.0 L1393.9,727.7 L1396.9,728.3 L1399.9,729.1 L1402.9,729.8 L1405.9,730.5 L1408.9,731.3 L1411.9,732.2 L1414.9,733.1 L1417.9,734.1 L1420.9,735.1 L1423.9,736.1 L1426.9,737.2 L1429.9,738.3 L1432.9,739.3 L1435.9,740.3 L1438.9,741.2 L1441.9,742.2 L1444.9,743.1 L1447.9,744.0 L1450.9,744.9 L1453.9,745.8 L1456.9,746.7 L1459.9,747.5 L1462.9,748.4 L1465.9,749.3 L1468.9,750.2 L1471.9,751.1 L1474.9,752.0 L1477.9,752.9 L1480.9,753.8 L1483.9,754.7 L1486.9,755.7 L1489.9,756.6 L1492.9,757.4 L1495.9,758.3 L1498.9,759.2 L1501.9,760.0 L1504.9,760.8 L1507.9,761.6 L1510.9,762.4 L1513.9,763.1 L1516.9,763.9 L1519.9,764.6 L1522.9,765.3 L1525.9,766.1 L1528.9,766.8 L1531.9,767.4 L1534.9,768.1 L1537.9,768.8 L1540.9,769.4 L1543.9,770.0 L1546.9,770.5 L1549.9,771.1 L1552.9,771.6 L1555.9,772.1 L1558.9,772.5 L1561.9,772.9 L1564.9,773.2 L1567.9,773.4 L1570.9,773.6 L1573.9,773.7 L1576.9,773.8 L1579.9,773.9 L1582.9,773.9 L1585.9,774.0 L1588.9,774.0 L1591.9,774.0 L1594.9,774.0 L1597.9,773.9 L1600.9,773.8 L1603.9,773.5 L1606.9,773.1 L1609.9,772.6 L1612.9,772.0 L1615.9,771.2 L1618.9,770.3 L1621.9,769.2 L1624.9,768.1 L1627.9,766.9 L1630.9,765.7 L1633.9,764.6 L1636.9,763.6 L1639.9,762.6 L1642.9,761.7 L1645.9,760.8 L1648.9,759.9 L1651.9,759.1 L1654.9,758.3 L1657.9,757.5 L1660.9,756.7 L1663.9,755.9 L1666.9,755.2 L1669.9,754.4 L1672.9,753.8 L1675.9,753.1 L1678.9,752.4 L1681.9,751.8 L1684.9,751.2 L1687.9,750.6 L1690.9,750.0 L1693.9,749.4 L1696.9,748.8 L1699.9,748.3 L1702.9,747.8 L1705.9,747.5 L1708.9,747.2 L1711.9,747.1 L1714.9,747.1 L1717.9,747.1 L1720.9,747.1 L1723.9,747.1 L1726.9,747.2 L1729.9,747.3 L1732.9,747.4 L1735.9,747.6 L1738.9,747.7 L1741.9,747.9 L1744.2,748.1" stroke="#5aaeaa"/>
<path d="M58.9,493.1 L61.9,487.9 L64.9,483.0 L67.9,478.7 L70.9,474.8 L73.9,471.3 L76.9,467.9 L79.9,464.5 L82.9,461.0 L85.9,457.5 L88.9,454.0 L91.9,450.4 L94.9,446.8 L97.9,443.2 L100.9,439.6 L103.9,436.0 L106.9,432.4 L109.9,428.8 L112.9,425.2 L115.9,421.6 L118.9,418.1 L121.9,414.6 L124.9,411.1 L127.9,407.7 L130.9,404.3 L133.9,400.9 L136.9,397.4 L139.9,393.9 L142.9,390.2 L145.9,386.5 L148.9,382.7 L151.9,379.1 L154.9,375.5 L157.9,371.9 L160.9,368.2 L163.9,364.3 L166.9,360.1 L169.9,355.8 L172.9,351.4 L175.9,347.1 L178.9,342.8 L181.9,338.7 L184.9,334.6 L187.9,330.6 L190.9,326.6 L193.9,322.6 L196.9,318.5 L199.9,314.4 L202.9,310.3 L205.9,306.1 L208.9,301.9 L211.9,297.7 L214.9,293.4 L217.9,289.0 L220.9,284.4 L223.9,279.5 L226.9,274.5 L229.9,269.3 L232.9,264.0 L235.9,258.7 L238.9,253.6 L241.9,248.8 L244.9,244.2 L247.9,239.9 L250.9,235.8 L253.9,231.8 L256.9,227.9 L259.9,223.8 L262.9,219.5 L265.9,215.0 L268.9,210.4 L271.9,205.9 L274.9,201.6 L277.9,197.4 L280.9,193.3 L283.9,189.1 L286.9,185.2 L289.9,181.6 L292.9,178.2 L295.9,174.9 L298.9,171.2 L301.9,166.9 L304.9,162.1 L307.9,157.2 L310.9,152.6 L313.9,148.5 L316.9,145.0 L319.9,141.9 L322.9,139.2 L325.9,136.6 L328.9,134.2 L331.9,131.9 L334.9,129.7 L337.9,127.7 L340.9,125.7 L343.9,123.8 L346.9,122.0 L349.9,120.2 L352.9,118.4 L355.9,116.8 L358.9,115.2 L361.9,113.8 L364.9,112.4 L367.9,111.3 L370.9,110.3 L373.9,109.5 L376.9,108.8 L379.9,108.3 L382.9,107.9 L385.9,107.7 L388.9,107.7 L391.9,107.7 L394.9,107.9 L397.9,108.2 L400.9,108.5 L403.9,108.9 L406.9,109.4 L409.9,110.1 L412.9,110.9 L415.9,111.8 L418.9,112.8 L421.9,114.1 L424.9,115.4 L427.9,116.8 L430.9,118.2 L433.9,119.6 L436.9,121.0 L439.9,122.4 L442.9,123.9 L445.9,125.5 L448.9,127.2 L451.9,129.0 L454.9,131.0 L457.9,133.1 L460.9,135.4 L463.9,137.8 L466.9,140.4 L469.9,143.0 L472.9,145.6 L475.9,148.2 L478.9,150.8 L481.9,153.4 L484.9,155.9 L487.9,158.4 L490.9,160.9 L493.9,163.6 L496.9,166.3 L499.9,169.2 L502.9,172.1 L505.9,174.9 L508.9,177.7 L511.9,180.5 L514.9,183.2 L517.9,186.0 L520.9,188.9 L523.9,191.9 L526.9,194.8 L529.9,197.8 L532.9,200.9 L535.9,203.9 L538.9,207.0 L541.9,210.0 L544.9,213.1 L547.9,216.1 L550.9,219.1 L553.9,222.1 L556.9,225.2 L559.9,228.3 L562.9,231.5 L565.9,234.8 L568.9,238.1 L571.9,241.4 L574.9,244.8 L577.9,248.1 L580.9,251.4 L583.9,254.7 L586.9,258.0 L589.9,261.3 L592.9,264.5 L595.9,267.6 L598.9,270.7 L601.9,273.8 L604.9,276.7 L607.9,279.7 L610.9,282.7 L613.9,285.6 L616.9,288.6 L619.9,291.6 L622.9,294.7 L625.9,297.9 L628.9,301.2 L631.9,304.6 L634.9,307.8 L637.9,311.0 L640.9,314.1 L643.9,317.1 L646.9,320.2 L649.9,323.4 L652.9,326.7 L655.9,330.2 L658.9,333.7 L661.9,337.2 L664.9,340.5 L667.9,343.6 L670.9,346.6 L673.9,349.4 L676.9,352.1 L679.9,354.9 L682.9,357.7 L685.9,360.6 L688.9,363.6 L691.9,366.7 L694.9,369.8 L697.9,372.8 L700.9,375.8 L703.9,378.6 L706.9,381.3 L709.9,383.9 L712.9,386.6 L715.9,389.3 L718.9,392.1 L721.9,395.0 L724.9,397.9 L727.9,401.0 L730.9,404.0 L733.9,407.0 L736.9,410.0 L739.9,413.0 L742.9,416.0 L745.9,418.9 L748.9,421.7 L751.9,424.5 L754.9,427.2 L757.9,429.9 L760.9,432.4 L763.9,435.0 L766.9,437.5 L769.9,439.9 L772.9,442.3 L775.9,444.7 L778.9,447.1 L781.9,449.6 L784.9,451.9 L787.9,454.3 L790.9,456.6 L793.9,458.9 L796.9,461.0 L799.9,463.2 L802.9,465.3 L805.9,467.5 L808.9,469.7 L811.9,472.0 L814.9,474.3 L817.9,476.7 L820.9,479.0 L823.9,481.3 L826.9,483.6 L829.9,485.7 L832.9,487.9 L835.9,490.0 L838.9,492.0 L841.9,494.1 L844.9,496.2 L847.9,498.3 L850.9,500.4 L853.9,502.6 L856.9,504.8 L859.9,507.0 L862.9,509.2 L865.9,511.5 L868.9,513.8 L871.9,516.1 L874.9,518.4 L877.9,520.6 L880.9,522.6 L883.9,524.5 L886.9,526.2 L889.9,527.8 L892.9,529.3 L895.9,530.7 L898.9,532.2 L901.9,533.7 L904.9,535.2 L907.9,536.8 L910.9,538.5 L913.9,540.3 L916.9,542.1 L919.9,543.9 L922.9,545.8 L925.9,547.6 L928.9,549.5 L931.9,551.3 L934.9,553.1 L937.9,555.0 L940.9,556.8 L943.9,558.6 L946.9,560.3 L949.9,562.0 L952.9,563.7 L955.9,565.4 L958.9,567.0 L961.9,568.6 L964.9,570.2 L967.9,571.7 L970.9,573.2 L973.9,574.7 L976.9,576.2 L979.9,577.6 L982.9,579.0 L985.9,580.4 L988.9,581.8 L991.9,583.2 L994.9,584.7 L997.9,586.2 L1000.9,587.7 L1003.9,589.3 L1006.9,590.9 L1009.9,592.5 L1012.9,594.1 L1015.9,595.7 L1018.9,597.3 L1021.9,598.7 L1024.9,600.2 L1027.9,601.6 L1030.9,603.0 L1033.9,604.4 L1036.9,605.8 L1039.9,607.2 L1042.9,608.5 L1045.9,609.9 L1048.9,611.3 L1051.9,612.6 L1054.9,614.0 L1057.9,615.4 L1060.9,616.8 L1063.9,618.3 L1066.9,619.7 L1069.9,621.2 L1072.9,622.5 L1075.9,623.9 L1078.9,625.2 L1081.9,626.4 L1084.9,627.6 L1087.9,628.8 L1090.9,630.0 L1093.9,631.1 L1096.9,632.2 L1099.9,633.2 L1102.9,634.2 L1105.9,635.2 L1108.9,636.2 L1111.9,637.2 L1114.9,638.2 L1117.9,639.3 L1120.9,640.4 L1123.9,641.5 L1126.9,642.7 L1129.9,643.9 L1132.9,645.1 L1135.9,646.3 L1138.9,647.5 L1141.9,648.6 L1144.9,649.7 L1147.9,650.8 L1150.9,651.8 L1153.9,652.8 L1156.9,653.8 L1159.9,654.8 L1162.9,655.8 L1165.9,656.8 L1168.9,657.9 L1171.9,659.0 L1174.9,660.1 L1177.9,661.2 L1180.9,662.3 L1183.9,663.4 L1186.9,664.5 L1189.9,665.6 L1192.9,666.7 L1195.9,667.9 L1198.9,669.0 L1201.9,670.1 L1204.9,671.2 L1207.9,672.2 L1210.9,673.2 L1213.9,674.2 L1216.9,675.1 L1219.9,675.9 L1222.9,676.8 L1225.9,677.6 L1228.9,678.4 L1231.9,679.3 L1234.9,680.1 L1237.9,681.0 L1240.9,681.9 L1243.9,682.8 L1246.9,683.6 L1249.9,684.5 L1252.9,685.4 L1255.9,686.3 L1258.9,687.2 L1261.9,688.1 L1264.9,689.0 L1267.9,689.9 L1270.9,690.8 L1273.9,691.7 L1276.9,692.6 L1279.9,693.4 L1282.9,694.3 L1285.9,695.1 L1288.9,696.0 L1291.9,696.8 L1294.9,697.6 L1297.9,698.3 L1300.9,699.1 L1303.9,699.8 L1306.9,700.4 L1309.9,701.1 L1312.9,701.7 L1315.9,702.3 L1318.9,702.9 L1321.9,703.5 L1324.9,704.0 L1327.9,704.6 L1330.9,705.1 L1333.9,705.6 L1336.9,706.1 L1339.9,706.6 L1342.9,707.1 L1345.9,707.6 L1348.9,708.1 L1351.9,708.6 L1354.9,709.1 L1357.9,709.6 L1360.9,710.1 L1363.9,710.6 L1366.9,711.1 L1369.9,711.6 L1372.9,712.0 L1375.9,712.4 L1378.9,712.8 L1381.9,713.3 L1384.9,713.7 L1387.9,714.1 L1390.9,714.5 L1393.9,714.9 L1396.9,715.4 L1399.9,715.8 L1402.9,716.3 L1405.9,716.7 L1408.9,717.2 L1411.9,717.7 L1414.9,718.1 L1417.9,718.6 L1420.9,719.0 L1423.9,719.5 L1426.9,719.9 L1429.9,720.4 L1432.9,720.8 L1435.9,721.2 L1438.9,721.6 L1441.9,722.0 L1444.9,722.4 L1447.9,722.8 L1450.9,723.1 L1453.9,723.5 L1456.9,723.8 L1459.9,724.1 L1462.9,724.4 L1465.9,724.7 L1468.9,725.0 L1471.9,725.3 L1474.9,725.7 L1477.9,726.0 L1480.9,726.4 L1483.9,726.8 L1486.9,727.2 L1489.9,727.7 L1492.9,728.2 L1495.9,728.6 L1498.9,729.0 L1501.9,729.4 L1504.9,729.7 L1507.9,730.1 L1510.9,730.4 L1513.9,730.7 L1516.9,730.9 L1519.9,731.2 L1522.9,731.5 L1525.9,731.8 L1528.9,732.1 L1531.9,732.4 L1534.9,732.7 L1537.9,733.0 L1540.9,733.3 L1543.9,733.6 L1546.9,733.9 L1549.9,734.2 L1552.9,734.5 L1555.9,734.8 L1558.9,735.1 L1561.9,735.4 L1564.9,735.6 L1567.9,735.9 L1570.9,736.1 L1573.9,736.3 L1576.9,736.5 L1579.9,736.7 L1582.9,736.9 L1585.9,737.1 L1588.9,737.4 L1591.9,737.7 L1594.9,738.1 L1597.9,738.4 L1600.9,738.8 L1603.9,739.2 L1606.9,739.5 L1609.9,739.8 L1612.9,740.0 L1615.9,740.2 L1618.9,740.3 L1621.9,740.5 L1624.9,740.6 L1627.9,740.7 L1630.9,740.9 L1633.9,741.0 L1636.9,741.1 L1639.9,741.2 L1642.9,741.3 L1645.9,741.5 L1648.9,741.6 L1651.9,741.8 L1654.9,742.1 L1657.9,742.4 L1660.9,742.7 L1663.9,743.0 L1666.9,743.3 L1669.9,743.5 L1672.9,743.6 L1675.9,743.7 L1678.9,743.7 L1681.9,743.8 L1684.9,744.0 L1687.9,744.2 L1690.9,744.6 L1693.9,745.0 L1696.9,745.5 L1699.9,745.8 L1702.9,746.1 L1705.9,746.4 L1708.9,746.5 L1711.9,746.7 L1714.9,746.8 L1717.9,746.9 L1720.9,747.1 L1723.9,747.2 L1726.9,747.3 L1729.9,747.5 L1732.9,747.6 L1735.9,747.7 L1738.9,747.9 L1741.9,748.0 L1744.2,748.1" stroke="#a8b860"/>
<path d="M58.9,477.6 L61.9,471.5 L64.9,465.6 L67.9,460.3 L70.9,455.5 L73.9,451.2 L76.9,447.3 L79.9,443.7 L82.9,440.4 L85.9,437.3 L88.9,434.3 L91.9,431.3 L94.9,428.3 L97.9,425.2 L100.9,421.9 L103.9,418.4 L106.9,414.8 L109.9,411.2 L112.9,407.5 L115.9,404.0 L118.9,400.4 L121.9,396.9 L124.9,393.3 L127.9,389.7 L130.9,386.0 L133.9,382.2 L136.9,378.6 L139.9,375.1 L142.9,371.7 L145.9,368.4 L148.9,365.1 L151.9,361.8 L154.9,358.3 L157.9,354.8 L160.9,351.2 L163.9,347.6 L166.9,344.0 L169.9,340.4 L172.9,336.9 L175.9,333.5 L178.9,330.1 L181.9,326.7 L184.9,323.4 L187.9,320.2 L190.9,316.9 L193.9,313.7 L196.9,310.6 L199.9,307.5 L202.9,304.4 L205.9,301.3 L208.9,298.1 L211.9,294.9 L214.9,291.6 L217.9,288.3 L220.9,285.0 L223.9,281.9 L226.9,278.9 L229.9,276.1 L232.9,273.2 L235.9,270.4 L238.9,267.7 L241.9,264.9 L244.9,262.4 L247.9,260.0 L250.9,257.7 L253.9,255.5 L256.9,253.2 L259.9,250.9 L262.9,248.3 L265.9,245.6 L268.9,242.9 L271.9,240.2 L274.9,237.5 L277.9,235.1 L280.9,232.9 L283.9,230.9 L286.9,229.1 L289.9,227.6 L292.9,226.2 L295.9,224.9 L298.9,223.6 L301.9,222.2 L304.9,220.6 L307.9,218.8 L310.9,216.8 L313.9,214.6 L316.9,212.4 L319.9,210.2 L322.9,208.0 L325.9,205.7 L328.9,203.5 L331.9,201.2 L334.9,199.0 L337.9,196.8 L340.9,194.5 L343.9,192.3 L346.9,190.0 L349.9,187.8 L352.9,185.5 L355.9,183.3 L358.9,181.2 L361.9,179.1 L364.9,177.1 L367.9,175.1 L370.9,173.1 L373.9,171.1 L376.9,169.1 L379.9,167.1 L382.9,165.1 L385.9,163.1 L388.9,161.1 L391.9,159.1 L394.9,157.2 L397.9,155.4 L400.9,153.6 L403.9,152.0 L406.9,150.4 L409.9,148.9 L412.9,147.5 L415.9,146.1 L418.9,144.8 L421.9,143.5 L424.9,142.3 L427.9,141.2 L430.9,140.2 L433.9,139.3 L436.9,138.4 L439.9,137.7 L442.9,137.0 L445.9,136.3 L448.9,135.8 L451.9,135.3 L454.9,134.9 L457.9,134.6 L460.9,134.3 L463.9,134.1 L466.9,134.0 L469.9,133.9 L472.9,133.9 L475.9,133.9 L478.9,134.0 L481.9,134.2 L484.9,134.4 L487.9,134.7 L490.9,135.1 L493.9,135.5 L496.9,136.0 L499.9,136.6 L502.9,137.2 L505.9,137.9 L508.9,138.7 L511.9,139.6 L514.9,140.6 L517.9,141.6 L520.9,142.7 L523.9,143.9 L526.9,145.1 L529.9,146.4 L532.9,147.8 L535.9,149.2 L538.9,150.7 L541.9,152.2 L544.9,153.8 L547.9,155.4 L550.9,157.1 L553.9,158.7 L556.9,160.4 L559.9,162.0 L562.9,163.7 L565.9,165.4 L568.9,167.1 L571.9,168.8 L574.9,170.6 L577.9,172.4 L580.9,174.3 L583.9,176.4 L586.9,178.5 L589.9,180.7 L592.9,183.0 L595.9,185.4 L598.9,187.8 L601.9,190.3 L604.9,192.7 L607.9,195.1 L610.9,197.5 L613.9,200.0 L616.9,202.5 L619.9,205.1 L622.9,207.7 L625.9,210.4 L628.9,213.1 L631.9,215.8 L634.9,218.5 L637.9,221.2 L640.9,223.9 L643.9,226.6 L646.9,229.3 L649.9,232.0 L652.9,234.7 L655.9,237.4 L658.9,240.2 L661.9,243.0 L664.9,245.9 L667.9,248.8 L670.9,251.7 L673.9,254.8 L676.9,257.8 L679.9,260.9 L682.9,264.0 L685.9,267.1 L688.9,270.1 L691.9,273.0 L694.9,275.9 L697.9,278.6 L700.9,281.4 L703.9,284.3 L706.9,287.3 L709.9,290.4 L712.9,293.6 L715.9,296.8 L718.9,300.1 L721.9,303.2 L724.9,306.4 L727.9,309.4 L730.9,312.4 L733.9,315.4 L736.9,318.4 L739.9,321.4 L742.9,324.4 L745.9,327.4 L748.9,330.4 L751.9,333.4 L754.9,336.4 L757.9,339.4 L760.9,342.5 L763.9,345.5 L766.9,348.5 L769.9,351.5 L772.9,354.5 L775.9,357.5 L778.9,360.5 L781.9,363.3 L784.9,366.2 L787.9,368.9 L790.9,371.6 L793.9,374.4 L796.9,377.3 L799.9,380.3 L802.9,383.5 L805.9,386.8 L808.9,390.2 L811.9,393.6 L814.9,397.1 L817.9,400.5 L820.9,403.9 L823.9,407.1 L826.9,410.3 L829.9,413.4 L832.9,416.4 L835.9,419.4 L838.9,422.2 L841.9,424.9 L844.9,427.6 L847.9,430.3 L850.9,432.9 L853.9,435.5 L856.9,438.1 L859.9,440.8 L862.9,443.4 L865.9,446.1 L868.9,448.8 L871.9,451.4 L874.9,454.0 L877.9,456.6 L880.9,459.2 L883.9,461.8 L886.9,464.4 L889.9,467.0 L892.9,469.6 L895.9,472.2 L898.9,474.9 L901.9,477.6 L904.9,480.4 L907.9,483.3 L910.9,486.2 L913.9,489.2 L916.9,492.1 L919.9,494.9 L922.9,497.6 L925.9,500.3 L928.9,502.8 L931.9,505.2 L934.9,507.6 L937.9,509.8 L940.9,512.1 L943.9,514.3 L946.9,516.6 L949.9,518.9 L952.9,521.4 L955.9,524.0 L958.9,526.6 L961.9,529.1 L964.9,531.6 L967.9,534.0 L970.9,536.4 L973.9,538.7 L976.9,541.1 L979.9,543.4 L982.9,545.7 L985.9,548.0 L988.9,550.3 L991.9,552.6 L994.9,554.8 L997.9,556.9 L1000.9,559.0 L1003.9,561.0 L1006.9,563.1 L1009.9,565.0 L1012.9,567.0 L1015.9,569.0 L1018.9,571.0 L1021.9,573.0 L1024.9,574.9 L1027.9,576.9 L1030.9,578.9 L1033.9,580.9 L1036.9,582.9 L1039.9,584.9 L1042.9,587.0 L1045.9,589.1 L1048.9,591.2 L1051.9,593.3 L1054.9,595.4 L1057.9,597.3 L1060.9,599.0 L1063.9,600.5 L1066.9,601.8 L1069.9,603.1 L1072.9,604.4 L1075.9,605.9 L1078.9,607.5 L1081.9,609.2 L1084.9,611.0 L1087.9,612.8 L1090.9,614.7 L1093.9,616.5 L1096.9,618.3 L1099.9,620.0 L1102.9,621.6 L1105.9,623.2 L1108.9,624.8 L1111.9,626.4 L1114.9,628.0 L1117.9,629.6 L1120.9,631.2 L1123.9,632.8 L1126.9,634.4 L1129.9,636.0 L1132.9,637.6 L1135.9,639.2 L1138.9,640.8 L1141.9,642.3 L1144.9,643.8 L1147.9,645.3 L1150.9,646.8 L1153.9,648.2 L1156.9,649.6 L1159.9,651.0 L1162.9,652.3 L1165.9,653.6 L1168.9,654.9 L1171.9,656.2 L1174.9,657.4 L1177.9,658.6 L1180.9,659.8 L1183.9,661.0 L1186.9,662.1 L1189.9,663.2 L1192.9,664.2 L1195.9,665.3 L1198.9,666.3 L1201.9,667.2 L1204.9,668.2 L1207.9,669.2 L1210.9,670.3 L1213.9,671.4 L1216.9,672.6 L1219.9,673.8 L1222.9,675.0 L1225.9,676.2 L1228.9,677.4 L1231.9,678.5 L1234.9,679.6 L1237.9,680.6 L1240.9,681.6 L1243.9,682.6 L1246.9,683.5 L1249.9,684.4 L1252.9,685.4 L1255.9,686.3 L1258.9,687.2 L1261.9,688.1 L1264.9,689.1 L1267.9,690.0 L1270.9,690.8 L1273.9,691.7 L1276.9,692.6 L1279.9,693.4 L1282.9,694.3 L1285.9,695.1 L1288.9,696.0 L1291.9,696.8 L1294.9,697.6 L1297.9,698.3 L1300.9,699.1 L1303.9,699.8 L1306.9,700.4 L1309.9,701.1 L1312.9,701.7 L1315.9,702.3 L1318.9,702.9 L1321.9,703.5 L1324.9,704.0 L1327.9,704.6 L1330.9,705.1 L1333.9,705.6 L1336.9,706.1 L1339.9,706.6 L1342.9,707.1 L1345.9,707.6 L1348.9,708.1 L1351.9,708.6 L1354.9,709.1 L1357.9,709.6 L1360.9,710.1 L1363.9,710.6 L1366.9,711.1 L1369.9,711.6 L1372.9,712.0 L1375.9,712.4 L1378.9,712.8 L1381.9,713.3 L1384.9,713.7 L1387.9,714.1 L1390.9,714.5 L1393.9,714.9 L1396.9,715.4 L1399.9,715.8 L1402.9,716.3 L1405.9,716.7 L1408.9,717.2 L1411.9,717.7 L1414.9,718.1 L1417.9,718.6 L1420.9,719.0 L1423.9,719.5 L1426.9,719.9 L1429.9,720.4 L1432.9,720.8 L1435.9,721.2 L1438.9,721.6 L1441.9,722.0 L1444.9,722.4 L1447.9,722.8 L1450.9,723.1 L1453.9,723.5 L1456.9,723.8 L1459.9,724.1 L1462.9,724.4 L1465.9,724.7 L1468.9,725.0 L1471.9,725.3 L1474.9,725.7 L1477.9,726.0 L1480.9,726.4 L1483.9,726.8 L1486.9,727.2 L1489.9,727.7 L1492.9,728.2 L1495.9,728.6 L1498.9,729.0 L1501.9,729.4 L1504.9,729.7 L1507.9,730.1 L1510.9,730.4 L1513.9,730.7 L1516.9,730.9 L1519.9,731.2 L1522.9,731.5 L1525.9,731.8 L1528.9,732.1 L1531.9,732.4 L1534.9,732.7 L1537.9,733.0 L1540.9,733.3 L1543.9,733.6 L1546.9,733.9 L1549.9,734.2 L1552.9,734.5 L1555.9,734.8 L1558.9,735.1 L1561.9,735.4 L1564.9,735.6 L1567.9,735.9 L1570.9,736.1 L1573.9,736.3 L1576.9,736.5 L1579.9,736.7 L1582.9,736.9 L1585.9,737.1 L1588.9,737.4 L1591.9,737.7 L1594.9,738.1 L1597.9,738.4 L1600.9,738.8 L1603.9,739.2 L1606.9,739.5 L1609.9,739.8 L1612.9,740.0 L1615.9,740.2 L1618.9,740.3 L1621.9,740.5 L1624.9,740.6 L1627.9,740.7 L1630.9,740.9 L1633.9,741.0 L1636.9,741.1 L1639.9,741.2 L1642.9,741.3 L1645.9,741.5 L1648.9,741.6 L1651.9,741.8 L1654.9,742.1 L1657.9,742.4 L1660.9,742.7 L1663.9,743.0 L1666.9,743.3 L1669.9,743.5 L1672.9,743.6 L1675.9,743.7 L1678.9,743.7 L1681.9,743.8 L1684.9,744.0 L1687.9,744.2 L1690.9,744.6 L1693.9,745.0 L1696.9,745.5 L1699.9,745.8 L1702.9,746.1 L1705.9,746.4 L1708.9,746.5 L1711.9,746.7 L1714.9,746.8 L1717.9,746.9 L1720.9,747.1 L1723.9,747.2 L1726.9,747.3 L1729.9,747.5 L1732.9,747.6 L1735.9,747.7 L1738.9,747.9 L1741.9,748.0 L1744.2,748.1" stroke="#5f58bc"/>
</g>
<line x1="59" y1="787" x2="1742" y2="787" stroke="#000" stroke-width="3" stroke-dasharray="4.6 3.97" stroke-dashoffset="1.2"/>
<g stroke="#787878" stroke-width="2.2" fill="none">
<line x1="58.3" y1="4" x2="58.3" y2="830"/>
<line x1="58.3" y1="825.6" x2="1745" y2="825.6"/>
</g>
<g stroke="#333" stroke-width="2"><line x1="300.2" y1="821" x2="300.2" y2="830"/><line x1="541.1" y1="821" x2="541.1" y2="830"/><line x1="782.0" y1="821" x2="782.0" y2="830"/><line x1="1022.9" y1="821" x2="1022.9" y2="830"/><line x1="1263.8" y1="821" x2="1263.8" y2="830"/><line x1="1504.7" y1="821" x2="1504.7" y2="830"/><line x1="1745.6" y1="821" x2="1745.6" y2="830"/><line x1="58.3" y1="684.1" x2="63" y2="684.1"/><line x1="58.3" y1="478.4" x2="63" y2="478.4"/><line x1="58.3" y1="272.8" x2="63" y2="272.8"/><line x1="58.3" y1="67.1" x2="63" y2="67.1"/></g>
<g font-family="'Liberation Sans', Arial, sans-serif" font-size="21.2" fill="#1e1e1e" stroke="#1e1e1e" stroke-width="0.45">
<text transform="translate(34.4,178.9) scale(1.14,1)">0.3</text><text transform="translate(34.4,384.0) scale(1.14,1)">0.2</text><text transform="translate(34.4,591.3) scale(1.14,1)">0.1</text><text transform="translate(34.4,796.9) scale(1.14,1)">0.0</text>
<text transform="translate(288.6,859.4) scale(1.14,1)">400</text><text transform="translate(769.8,859.4) scale(1.14,1)">500</text><text transform="translate(1251.2,859.4) scale(1.14,1)">600</text>
<text transform="translate(851.5,895.2) scale(1.10,1)">Wavelength (nm)</text>
<text transform="translate(24.2,491) rotate(-90) scale(1,1.13)" font-size="20.6">Absorbance(AU)</text>
</g>
<rect x="1045.5" y="43" width="460.6" height="478" fill="#fff"/>
<g fill="none">
<line x1="1044.5" y1="42.85" x2="1507.1" y2="42.85" stroke="#6b6b6b" stroke-width="2.2"/>
<line x1="1045.4" y1="42" x2="1045.4" y2="522.1" stroke="#2b2b2b" stroke-width="2.0"/>
<line x1="1506.06" y1="42" x2="1506.06" y2="522.1" stroke="#484848" stroke-width="2.2"/>
<line x1="1044.5" y1="521.06" x2="1507.1" y2="521.06" stroke="#484848" stroke-width="2.2"/>
</g>
<g font-family="'Liberation Serif', 'Times New Roman', serif" font-size="37.6" fill="#000" stroke="#000" stroke-width="0.3">
<text transform="translate(1070.6,87.4) scale(1.134,1)" x="0" y="0">- pH = 7.06, A = 0.361</text><text transform="translate(1070.6,155.7) scale(1.134,1)" x="0" y="0">- pH = 6.05, A = 0.330</text><text transform="translate(1070.6,224.0) scale(1.134,1)" x="0" y="0">- pH = 5.10, A = 0.317</text><text transform="translate(1070.6,292.3) scale(1.134,1)" x="0" y="0">- pH = 8.05, A = 0.285</text><text transform="translate(1070.6,360.6) scale(1.134,1)" x="0" y="0">- pH = 9.06, A = 0.202</text><text transform="translate(1070.6,428.9) scale(1.134,1)" x="0" y="0">- pH = 10.04, A = 0.184</text><text transform="translate(1070.6,497.2) scale(1.134,1)" x="0" y="0">- pH = 4.05, A = 0.082</text>
</g>
</svg>
</body></html>
